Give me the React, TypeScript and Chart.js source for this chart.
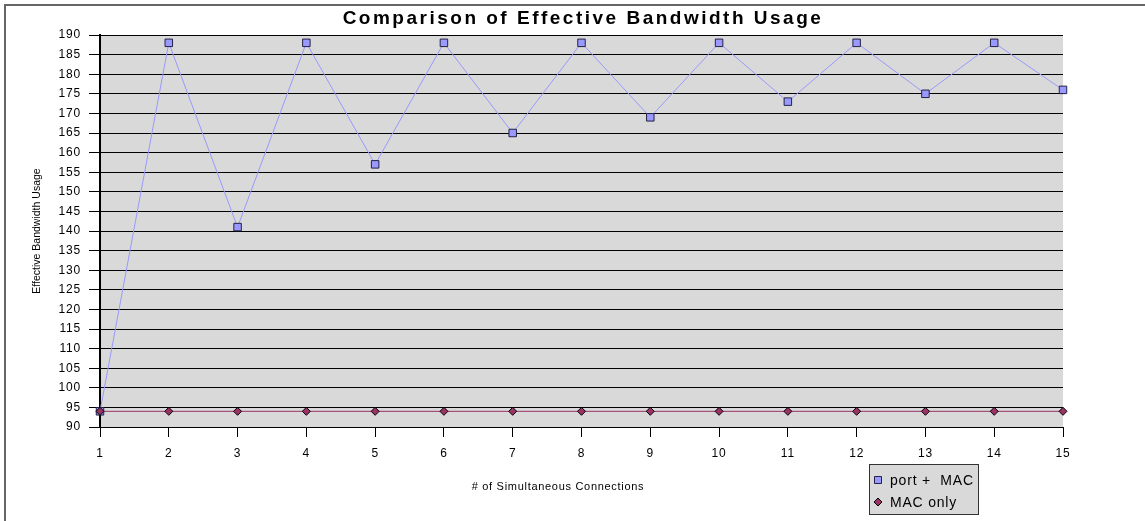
import { useEffect, useRef } from 'react';
import { Chart, registerables } from 'chart.js';

Chart.register(...registerables);

const FONT = '"Liberation Sans", Arial, Helvetica, sans-serif';

const categories = ['1', '2', '3', '4', '5', '6', '7', '8', '9', '10', '11', '12', '13', '14', '15'];
const seriesNames = ['port +  MAC', 'MAC only'];
const portMac = [94, 188, 141, 188, 157, 188, 165, 188, 169, 188, 173, 188, 175, 188, 176];
const macOnly = [94, 94, 94, 94, 94, 94, 94, 94, 94, 94, 94, 94, 94, 94, 94];
const yMin = 90;
const yMax = 190;
const yStep = 5;
const chartTitle = 'Comparison of Effective Bandwidth Usage';
const xTitle = '# of Simultaneous Connections';
const yTitle = 'Effective Bandwidth Usage';

export default function App() {
  const ref = useRef<HTMLCanvasElement>(null);

  useEffect(() => {
    document.body.style.margin = '0';
    const canvas = ref.current;
    if (!canvas) return;

    const decor = {
      id: 'decor',
      beforeDraw(chart: any) {
        const { ctx, chartArea: a } = chart;
        ctx.save();
        ctx.fillStyle = '#ffffff';
        ctx.fillRect(0, 0, chart.width, chart.height);
        ctx.strokeStyle = '#666666';
        ctx.lineWidth = 2;
        ctx.strokeRect(5, 5, chart.width + 20, chart.height + 20);
        ctx.fillStyle = '#d9d9d9';
        ctx.fillRect(a.left, a.top, a.right - a.left, a.bottom - a.top);
        ctx.restore();
        ctx.letterSpacing = '0.8px';
      },
      afterDraw(chart: any) {
        const { ctx } = chart;
        ctx.save();
        ctx.fillStyle = '#000000';
        // Title
        ctx.letterSpacing = '2.5px';
        ctx.font = `bold 19px ${FONT}`;
        ctx.textAlign = 'center';
        ctx.textBaseline = 'alphabetic';
        ctx.fillText(chartTitle, 583, 24);
        // X title
        ctx.letterSpacing = '0.7px';
        ctx.font = `11px ${FONT}`;
        ctx.textBaseline = 'middle';
        ctx.fillText(xTitle, 558, 487);
        // Y title
        ctx.save();
        ctx.translate(37, 231);
        ctx.rotate(-Math.PI / 2);
        ctx.letterSpacing = '0px';
        ctx.font = `10.5px ${FONT}`;
        ctx.textAlign = 'center';
        ctx.textBaseline = 'middle';
        ctx.fillText(yTitle, 0, 0);
        ctx.restore();
        // Legend
        const lx = 869.5, ly = 464.5, lw = 109, lh = 50;
        ctx.fillStyle = '#d9d9d9';
        ctx.fillRect(lx, ly, lw, lh);
        ctx.strokeStyle = '#333333';
        ctx.lineWidth = 1;
        ctx.strokeRect(lx, ly, lw, lh);
        chart.data.datasets.forEach((ds: any, i: number) => {
          const cy = 480 + i * 22;
          const mx = 878;
          ctx.fillStyle = ds.pointBackgroundColor;
          ctx.strokeStyle = ds.pointBorderColor;
          ctx.lineWidth = 1;
          ctx.beginPath();
          if (ds.pointStyle === 'rect') {
            ctx.rect(mx - 3.5, cy - 3.5, 7, 7);
          } else {
            ctx.moveTo(mx, cy - 4);
            ctx.lineTo(mx + 4, cy);
            ctx.lineTo(mx, cy + 4);
            ctx.lineTo(mx - 4, cy);
            ctx.closePath();
          }
          ctx.fill();
          ctx.stroke();
          ctx.fillStyle = '#000000';
          ctx.letterSpacing = '0.8px';
          ctx.font = `14px ${FONT}`;
          ctx.textAlign = 'left';
          ctx.textBaseline = 'middle';
          ctx.fillText(ds.label, 890, cy + 1);
        });
        ctx.restore();
      },
    };

    const chart = new Chart(canvas, {
      type: 'line',
      data: {
        labels: categories,
        datasets: [
          {
            label: seriesNames[0],
            data: portMac,
            borderColor: '#9999ff',
            borderWidth: 1,
            pointStyle: 'rect',
            pointRadius: 5.3,
            pointBackgroundColor: '#9999ff',
            pointBorderColor: '#222244',
            pointBorderWidth: 1,
            tension: 0,
            clip: false,
            order: 2,
          },
          {
            label: seriesNames[1],
            data: macOnly,
            borderColor: '#993366',
            borderWidth: 1,
            pointStyle: 'rectRot',
            pointRadius: 4,
            pointBackgroundColor: '#993366',
            pointBorderColor: '#000000',
            pointBorderWidth: 1,
            tension: 0,
            clip: false,
            order: 1,
          },
        ],
      },
      options: {
        animation: false,
        responsive: false,
        devicePixelRatio: 1,
        layout: { padding: { left: 0, right: 82, top: 35, bottom: 0 } },
        plugins: {
          legend: { display: false },
          title: { display: false },
          tooltip: { enabled: false },
        },
        scales: {
          x: {
            type: 'category',
            offset: false,
            grid: {
              display: true,
              drawOnChartArea: false,
              drawTicks: true,
              tickLength: 10,
              color: '#000000',
              lineWidth: 1,
            },
            border: { display: true, color: '#000000', width: 1 },
            ticks: {
              font: { family: FONT, size: 12 },
              color: '#000000',
              padding: 9,
              maxRotation: 0,
              autoSkip: false,
            },
            afterFit: (s: any) => {
              s.height = 94;
            },
          },
          y: {
            min: yMin,
            max: yMax,
            ticks: {
              stepSize: yStep,
              font: { family: FONT, size: 12 },
              color: '#000000',
              padding: 8,
            },
            grid: {
              color: '#000000',
              lineWidth: 1,
              drawTicks: true,
              tickLength: 11,
            },
            border: { display: true, color: '#000000', width: 2 },
            afterFit: (s: any) => {
              s.width = 100;
            },
          },
        },
      },
      plugins: [decor],
    });

    return () => chart.destroy();
  }, []);

  return (
    <div style={{ width: 1145, height: 521, position: 'relative' }}>
      <canvas ref={ref} width={1145} height={521} style={{ display: 'block' }} />
    </div>
  );
}
